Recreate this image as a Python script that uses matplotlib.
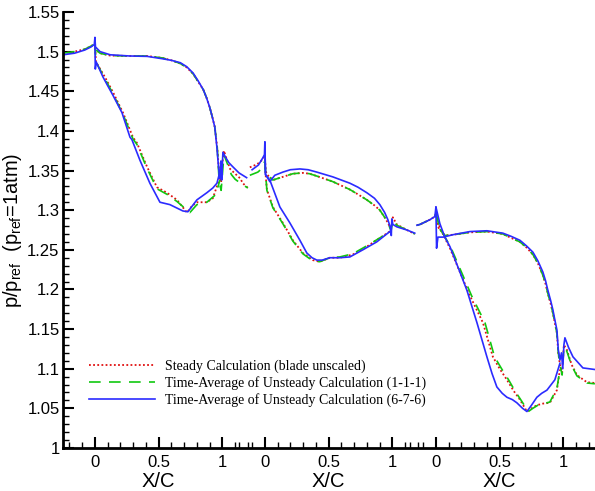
import numpy as np
import matplotlib
matplotlib.use("Agg")
import matplotlib.pyplot as plt
from matplotlib.ticker import FixedLocator

# -------------------------------------------------
# Data: p/p_ref vs X/C for three blade rows
# "up" = inlet + suction side + wake, "lo" = pressure side
# -------------------------------------------------

# blade row 1
b1_blue_up_x = [-0.25, -0.16, -0.08, -0.03, -0.005, 0.0, 0.004, 0.04, 0.12, 0.27, 0.41, 0.53, 0.60, 0.67, 0.72,
                0.77, 0.81, 0.85, 0.875, 0.90, 0.92, 0.94, 0.957, 0.965, 0.975, 0.982, 0.988, 0.994, 1.004, 1.02,
                1.05, 1.08, 1.13, 1.19]
b1_blue_up_p = [1.496, 1.498, 1.502, 1.506, 1.509, 1.518, 1.506, 1.500, 1.496, 1.4945, 1.494, 1.491, 1.489, 1.486,
                1.481, 1.473, 1.463, 1.452, 1.442, 1.430, 1.418, 1.405, 1.379, 1.363, 1.345, 1.340, 1.362, 1.338,
                1.373, 1.368, 1.360, 1.355, 1.347, 1.341]
b1_blue_lo_x = [0.0, 0.003, 0.01, 0.063, 0.10, 0.141, 0.212, 0.275, 0.290, 0.353, 0.431, 0.510, 0.588, 0.690,
                0.729, 0.800, 0.878, 0.925, 0.957, 0.975]
b1_blue_lo_p = [1.509, 1.478, 1.487, 1.468, 1.457, 1.445, 1.423, 1.392, 1.389, 1.363, 1.334, 1.310, 1.307, 1.299,
                1.298, 1.313, 1.322, 1.328, 1.334, 1.345]

b1_red_up_x = [-0.25, -0.16, -0.08, -0.03, 0.0, 0.01, 0.04, 0.12, 0.27, 0.41, 0.53, 0.60, 0.67, 0.72, 0.77, 0.81,
               0.85, 0.875, 0.90, 0.92, 0.94, 0.96, 0.975, 0.99, 1.0, 1.012, 1.03, 1.06, 1.10, 1.14, 1.16, 1.2]
b1_red_up_p = [1.498, 1.500, 1.503, 1.507, 1.510, 1.502, 1.498, 1.495, 1.4945, 1.4945, 1.492, 1.489, 1.485, 1.480,
               1.472, 1.462, 1.452, 1.442, 1.430, 1.418, 1.405, 1.378, 1.345, 1.335, 1.360, 1.375, 1.366, 1.352,
               1.346, 1.340, 1.334, 1.328]
b1_red_lo_x = [0.0, 0.008, 0.078, 0.141, 0.220, 0.298, 0.329, 0.408, 0.486, 0.565, 0.643, 0.722, 0.760, 0.800,
               0.878, 0.925, 0.965, 0.98]
b1_red_lo_p = [1.510, 1.487, 1.468, 1.449, 1.423, 1.392, 1.385, 1.355, 1.329, 1.322, 1.313, 1.297, 1.305, 1.310,
               1.310, 1.315, 1.334, 1.345]

b1_green_up_x = [-0.25, -0.16, -0.08, -0.03, 0.0, 0.01, 0.04, 0.12, 0.27, 0.41, 0.53, 0.60, 0.67, 0.72, 0.77,
                 0.81, 0.85, 0.875, 0.90, 0.92, 0.94, 0.96, 0.975, 0.99, 1.0, 1.012, 1.04, 1.07, 1.10, 1.15, 1.2]
b1_green_up_p = [1.498, 1.500, 1.503, 1.507, 1.510, 1.502, 1.498, 1.495, 1.4945, 1.4945, 1.492, 1.489, 1.485,
                 1.480, 1.472, 1.462, 1.452, 1.442, 1.430, 1.418, 1.405, 1.378, 1.335, 1.325, 1.345, 1.370, 1.358,
                 1.345, 1.339, 1.333, 1.328]
b1_green_lo_x = [0.0, 0.008, 0.078, 0.141, 0.220, 0.298, 0.329, 0.408, 0.486, 0.565, 0.643, 0.745, 0.800, 0.878,
                 0.95, 0.98]
b1_green_lo_p = [1.510, 1.487, 1.466, 1.447, 1.421, 1.390, 1.383, 1.353, 1.327, 1.320, 1.311, 1.297, 1.307, 1.310,
                 1.320, 1.338]

# blade row 2
b2_blue_up_x = [-0.10, -0.05, -0.016, -0.003, 0.0, 0.005, 0.039, 0.078, 0.141, 0.20, 0.275, 0.34, 0.408, 0.533,
                0.60, 0.667, 0.73, 0.800, 0.86, 0.902, 0.94, 0.965, 0.985, 0.992, 0.996, 1.004, 1.035, 1.114, 1.176]
b2_blue_up_p = [1.351, 1.357, 1.366, 1.370, 1.386, 1.345, 1.336, 1.344, 1.348, 1.351, 1.352, 1.351, 1.348, 1.342,
                1.338, 1.334, 1.329, 1.322, 1.315, 1.307, 1.297, 1.288, 1.278, 1.268, 1.289, 1.282, 1.279, 1.275,
                1.271]
b2_blue_lo_x = [0.0, 0.005, 0.039, 0.118, 0.196, 0.275, 0.329, 0.37, 0.408, 0.45, 0.510, 0.588, 0.667, 0.769,
                0.878, 0.980]
b2_blue_lo_p = [1.386, 1.345, 1.338, 1.304, 1.284, 1.262, 1.246, 1.240, 1.237, 1.237, 1.240, 1.240, 1.241, 1.250,
                1.260, 1.273]

b2_red_up_x = [-0.118, -0.06, -0.016, 0.0, 0.005, 0.016, 0.063, 0.141, 0.22, 0.298, 0.35, 0.408, 0.533, 0.60,
               0.667, 0.73, 0.800, 0.86, 0.902, 0.94, 0.965, 0.990, 1.004, 1.035, 1.114, 1.176]
b2_red_up_p = [1.354, 1.358, 1.364, 1.370, 1.350, 1.345, 1.338, 1.342, 1.346, 1.347, 1.346, 1.343, 1.336, 1.331,
               1.326, 1.320, 1.313, 1.306, 1.300, 1.291, 1.284, 1.276, 1.291, 1.282, 1.275, 1.270]
b2_red_lo_x = [0.0, 0.005, 0.016, 0.063, 0.141, 0.220, 0.298, 0.376, 0.431, 0.510, 0.588, 0.690, 0.800, 0.902, 0.980]
b2_red_lo_p = [1.370, 1.347, 1.326, 1.304, 1.284, 1.262, 1.246, 1.237, 1.235, 1.240, 1.240, 1.244, 1.254, 1.265, 1.273]

b2_green_up_x = [-0.118, -0.055, -0.02, 0.0, 0.005, 0.016, 0.063, 0.141, 0.22, 0.298, 0.35, 0.408, 0.533, 0.60,
                 0.667, 0.73, 0.800, 0.86, 0.902, 0.94, 0.965, 0.990, 1.004, 1.035, 1.114, 1.176]
b2_green_up_p = [1.344, 1.348, 1.353, 1.362, 1.350, 1.345, 1.338, 1.342, 1.346, 1.347, 1.346, 1.343, 1.336, 1.331,
                 1.326, 1.320, 1.313, 1.306, 1.300, 1.291, 1.284, 1.274, 1.287, 1.281, 1.275, 1.270]
b2_green_lo_x = [0.0, 0.005, 0.016, 0.063, 0.141, 0.220, 0.298, 0.376, 0.431, 0.510, 0.588, 0.690, 0.800, 0.902, 0.980]
b2_green_lo_p = [1.362, 1.347, 1.325, 1.303, 1.283, 1.261, 1.245, 1.236, 1.235, 1.240, 1.241, 1.245, 1.255, 1.265, 1.272]

# blade row 3
b3_blue_up_x = [-0.149, -0.125, -0.047, -0.008, 0.0, 0.005, 0.016, 0.055, 0.133, 0.267, 0.400, 0.525, 0.59, 0.659,
                0.71, 0.761, 0.80, 0.839, 0.86, 0.878, 0.90, 0.918, 0.935, 0.949, 0.960, 0.973, 0.985, 0.995, 1.004,
                1.012, 1.04, 1.075, 1.153, 1.247]
b3_blue_up_p = [1.281, 1.282, 1.288, 1.292, 1.304, 1.252, 1.266, 1.266, 1.269, 1.273, 1.274, 1.271, 1.267, 1.262,
                1.255, 1.247, 1.236, 1.222, 1.211, 1.199, 1.186, 1.174, 1.160, 1.149, 1.124, 1.111, 1.120, 1.100,
                1.130, 1.139, 1.127, 1.115, 1.101, 1.099]
b3_blue_lo_x = [0.0, 0.031, 0.07, 0.110, 0.188, 0.243, 0.322, 0.400, 0.44, 0.478, 0.52, 0.557, 0.60, 0.635, 0.68,
                0.714, 0.75, 0.792, 0.83, 0.871, 0.933, 0.973]
b3_blue_lo_p = [1.304, 1.283, 1.266, 1.254, 1.222, 1.199, 1.158, 1.115, 1.094, 1.077, 1.069, 1.064, 1.061, 1.057,
                1.050, 1.046, 1.054, 1.064, 1.069, 1.073, 1.086, 1.107]

b3_red_up_x = [-0.149, -0.125, -0.047, -0.008, 0.0, 0.02, 0.07, 0.133, 0.267, 0.400, 0.525, 0.59, 0.659, 0.71,
               0.761, 0.80, 0.839, 0.86, 0.878, 0.90, 0.918, 0.935, 0.949, 0.960, 0.973, 0.99, 1.004, 1.027, 1.065,
               1.106, 1.184, 1.247]
b3_red_up_p = [1.281, 1.282, 1.288, 1.292, 1.296, 1.278, 1.268, 1.269, 1.272, 1.273, 1.270, 1.265, 1.260, 1.253,
               1.244, 1.233, 1.218, 1.207, 1.195, 1.182, 1.170, 1.156, 1.145, 1.120, 1.105, 1.095, 1.130, 1.124,
               1.105, 1.092, 1.083, 1.082]
b3_red_lo_x = [0.0, 0.03, 0.110, 0.188, 0.267, 0.369, 0.447, 0.50, 0.557, 0.61, 0.659, 0.714, 0.75, 0.792, 0.84,
               0.894, 0.949, 0.973]
b3_red_lo_p = [1.296, 1.278, 1.252, 1.222, 1.192, 1.158, 1.115, 1.100, 1.086, 1.072, 1.061, 1.046, 1.050, 1.054,
               1.056, 1.057, 1.073, 1.099]

b3_green_up_x = [-0.149, -0.125, -0.047, -0.008, 0.0, 0.02, 0.07, 0.133, 0.267, 0.400, 0.525, 0.59, 0.659, 0.71,
                 0.761, 0.80, 0.839, 0.86, 0.878, 0.90, 0.918, 0.935, 0.949, 0.960, 0.973, 0.99, 1.004, 1.027, 1.065,
                 1.106, 1.184, 1.247]
b3_green_up_p = [1.281, 1.282, 1.288, 1.292, 1.296, 1.278, 1.268, 1.269, 1.272, 1.273, 1.270, 1.265, 1.260, 1.253,
                 1.244, 1.233, 1.218, 1.207, 1.195, 1.182, 1.170, 1.156, 1.145, 1.120, 1.105, 1.092, 1.127, 1.122,
                 1.104, 1.091, 1.082, 1.081]
b3_green_lo_x = [0.0, 0.03, 0.12, 0.20, 0.28, 0.385, 0.46, 0.515, 0.57, 0.62, 0.665, 0.725, 0.76, 0.80, 0.845,
                 0.894, 0.949, 0.973]
b3_green_lo_p = [1.296, 1.278, 1.252, 1.222, 1.192, 1.158, 1.115, 1.100, 1.086, 1.072, 1.061, 1.046, 1.050, 1.054,
                 1.056, 1.058, 1.075, 1.099]

series_labels = ["Steady Calculation (blade unscaled)",
                 "Time-Average of Unsteady Calculation (1-1-1)",
                 "Time-Average of Unsteady Calculation (6-7-6)"]
x_tick_labels = ["0", "0.5", "1"]

# -------------------------------------------------
# Composite x-axis: three blade rows side by side
# -------------------------------------------------

offsets = [0.0, 1.333, 2.675]
x_min, x_max = -0.25, 3.937

plt.rcParams["font.family"] = ["Liberation Sans", "DejaVu Sans"]
plt.rcParams["mathtext.fontset"] = "custom"
plt.rcParams["mathtext.rm"] = "Liberation Sans"

fig = plt.figure(figsize=(5.95, 4.91), dpi=100)
ax = fig.add_axes([0.106, 0.0876, 0.897, 0.888])

red = "#e01010"
green = "#10c810"
blue = "#2b2bff"

styles = [
    dict(color=red, linestyle=(0, (1.0, 1.3)), linewidth=1.3),
    dict(color=green, linestyle=(0, (7, 5)), linewidth=1.2),
    dict(color=blue, linestyle="-", linewidth=1.2),
]

blades = [
    [(b1_red_up_x, b1_red_up_p, b1_red_lo_x, b1_red_lo_p),
     (b1_green_up_x, b1_green_up_p, b1_green_lo_x, b1_green_lo_p),
     (b1_blue_up_x, b1_blue_up_p, b1_blue_lo_x, b1_blue_lo_p)],
    [(b2_red_up_x, b2_red_up_p, b2_red_lo_x, b2_red_lo_p),
     (b2_green_up_x, b2_green_up_p, b2_green_lo_x, b2_green_lo_p),
     (b2_blue_up_x, b2_blue_up_p, b2_blue_lo_x, b2_blue_lo_p)],
    [(b3_red_up_x, b3_red_up_p, b3_red_lo_x, b3_red_lo_p),
     (b3_green_up_x, b3_green_up_p, b3_green_lo_x, b3_green_lo_p),
     (b3_blue_up_x, b3_blue_up_p, b3_blue_lo_x, b3_blue_lo_p)],
]

for off, blade in zip(offsets, blades):
    for k, (ux, up, lx, lp) in enumerate(blade):
        lab = series_labels[k] if off == 0.0 else None
        ax.plot(np.array(ux) + off, up, label=lab, **styles[k])
        ax.plot(np.array(lx) + off, lp, **styles[k])

ax.set_xlim(x_min, x_max)
ax.set_ylim(1.0, 1.55)

# y ticks
ax.set_yticks(np.arange(1.0, 1.5501, 0.05))
ax.set_yticklabels(["1", "1.05", "1.1", "1.15", "1.2", "1.25", "1.3", "1.35", "1.4", "1.45", "1.5", "1.55"])
ax.yaxis.set_minor_locator(FixedLocator(np.arange(1.0, 1.5501, 0.01)))

# x ticks: 0, 0.5, 1 for each blade row
major = []
minor = []
for off in offsets:
    major += [off + 0.0, off + 0.5, off + 1.0]
    minor += [off + v for v in np.arange(-0.2, 1.25, 0.1)]
minor = [m for m in minor if x_min <= m <= x_max]
ax.set_xticks(major)
ax.set_xticklabels(x_tick_labels * 3)
ax.xaxis.set_minor_locator(FixedLocator(minor))

for off in offsets:
    ax.text(off + 0.5, -0.054, "X/C", transform=ax.get_xaxis_transform(),
            ha="center", va="top", fontsize=14.5)

ax.tick_params(which="major", direction="in", length=8, width=1.5, labelsize=12, pad=2.5)
ax.tick_params(which="minor", direction="in", length=4, width=1.0)
ax.tick_params(axis="x", which="major", pad=5)

for s in ["top", "right"]:
    ax.spines[s].set_visible(False)
for s in ["left", "bottom"]:
    ax.spines[s].set_linewidth(2)

ax.set_ylabel(r"p/p$_\mathregular{ref}$  (p$_\mathregular{ref}$=1atm)", fontsize=14.5, labelpad=2)

ax.legend(loc="upper left", bbox_to_anchor=(0.035, 0.218), frameon=False,
          prop={"family": "Liberation Serif", "size": 10}, handlelength=4.8,
          handletextpad=0.7, labelspacing=0.2, borderpad=0)

plt.savefig("out.png", dpi=100)
